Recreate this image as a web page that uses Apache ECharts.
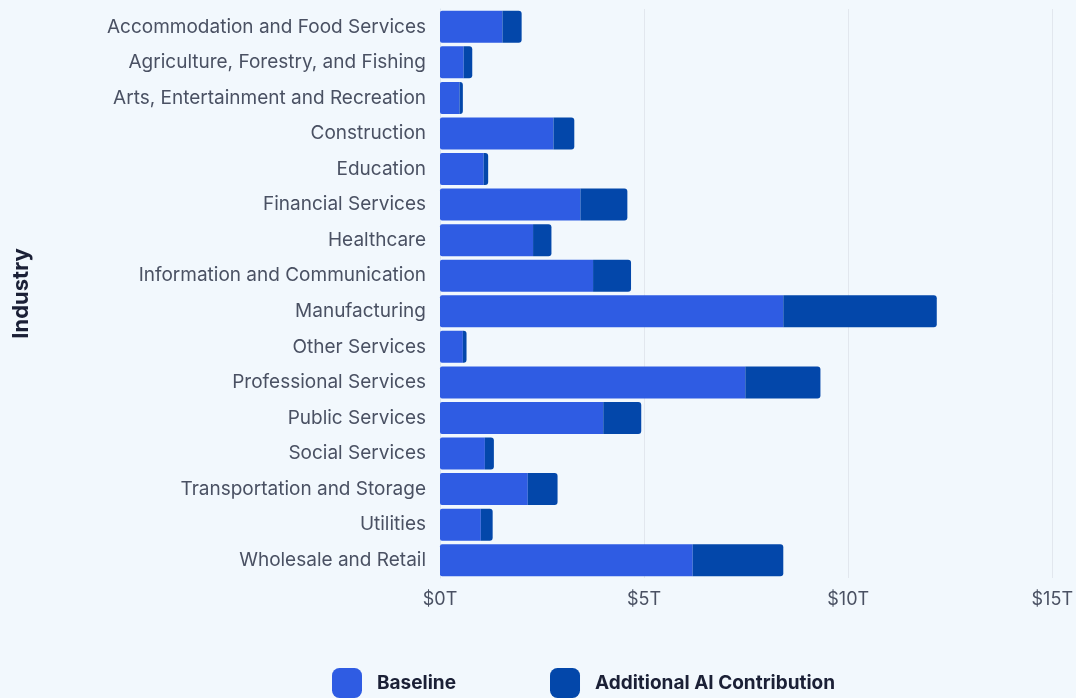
<!DOCTYPE html>
<html>
<head>
<meta charset="utf-8">
<script src="https://cdn.jsdelivr.net/npm/echarts@6/dist/echarts.min.js"></script>
<style>
html,body{margin:0;padding:0;background:#F2F8FD;}
#c{width:1076px;height:698px;}
</style>
</head>
<body>
<div id="c"></div>
<script>
const categories = [
  "Accommodation and Food Services",
  "Agriculture, Forestry, and Fishing",
  "Arts, Entertainment and Recreation",
  "Construction",
  "Education",
  "Financial Services",
  "Healthcare",
  "Information and Communication",
  "Manufacturing",
  "Other Services",
  "Professional Services",
  "Public Services",
  "Social Services",
  "Transportation and Storage",
  "Utilities",
  "Wholesale and Retail"
];
const baseline = [1.53, 0.58, 0.48, 2.78, 1.07, 3.44, 2.28, 3.75, 8.41, 0.56, 7.48, 4.00, 1.10, 2.15, 1.00, 6.19];
const additional = [0.47, 0.21, 0.08, 0.51, 0.11, 1.15, 0.45, 0.93, 3.76, 0.09, 1.84, 0.93, 0.22, 0.73, 0.29, 2.22];
const xTicks = [0, 5, 10, 15];

const chart = echarts.init(document.getElementById('c'), null, {renderer: 'canvas'});
const font = 'Inter, "Noto Sans", sans-serif';
chart.setOption({
  backgroundColor: '#F2F8FD',
  animation: false,
  grid: {left: 440, right: 22, top: 9, bottom: 120, containLabel: false},
  legend: {
    top: 663, left: 327,
    itemWidth: 30, itemHeight: 30, itemGap: 94,
    icon: 'roundRect',
    textStyle: {fontFamily: font, fontSize: 19, fontWeight: 'bold', color: '#1b2036', padding: [4, 0, 0, 10]},
    data: ['Baseline', 'Additional AI Contribution']
  },
  xAxis: {
    type: 'value', min: xTicks[0], max: xTicks[xTicks.length - 1], interval: 5,
    axisLine: {show: false}, axisTick: {show: false},
    splitLine: {show: true, lineStyle: {color: '#e2e7ee', width: 1}},
    axisLabel: {fontFamily: font, fontSize: 18, color: '#4a5163', margin: 13, formatter: v => '$' + v + 'T'}
  },
  yAxis: {
    type: 'category', data: categories, inverse: true,
    name: 'Industry', nameLocation: 'middle', nameGap: 408, nameRotate: 90,
    nameTextStyle: {fontFamily: font, fontSize: 22, fontWeight: 'bold', color: '#1b2036'},
    axisLine: {show: true, lineStyle: {color: '#dbe6f2'}}, axisTick: {show: false},
    axisLabel: {fontFamily: font, fontSize: 19, color: '#4a5163', margin: 14}
  },
  series: [
    {
      name: 'Baseline', type: 'bar', stack: 'total', data: baseline,
      barCategoryGap: '10%',
      itemStyle: {color: '#2F5CE3', borderRadius: [2, 0, 0, 2]}
    },
    {
      name: 'Additional AI Contribution', type: 'bar', stack: 'total', data: additional,
      barCategoryGap: '10%',
      itemStyle: {color: '#0347AA', borderRadius: [0, 3, 3, 0]}
    }
  ]
});
</script>
</body>
</html>
